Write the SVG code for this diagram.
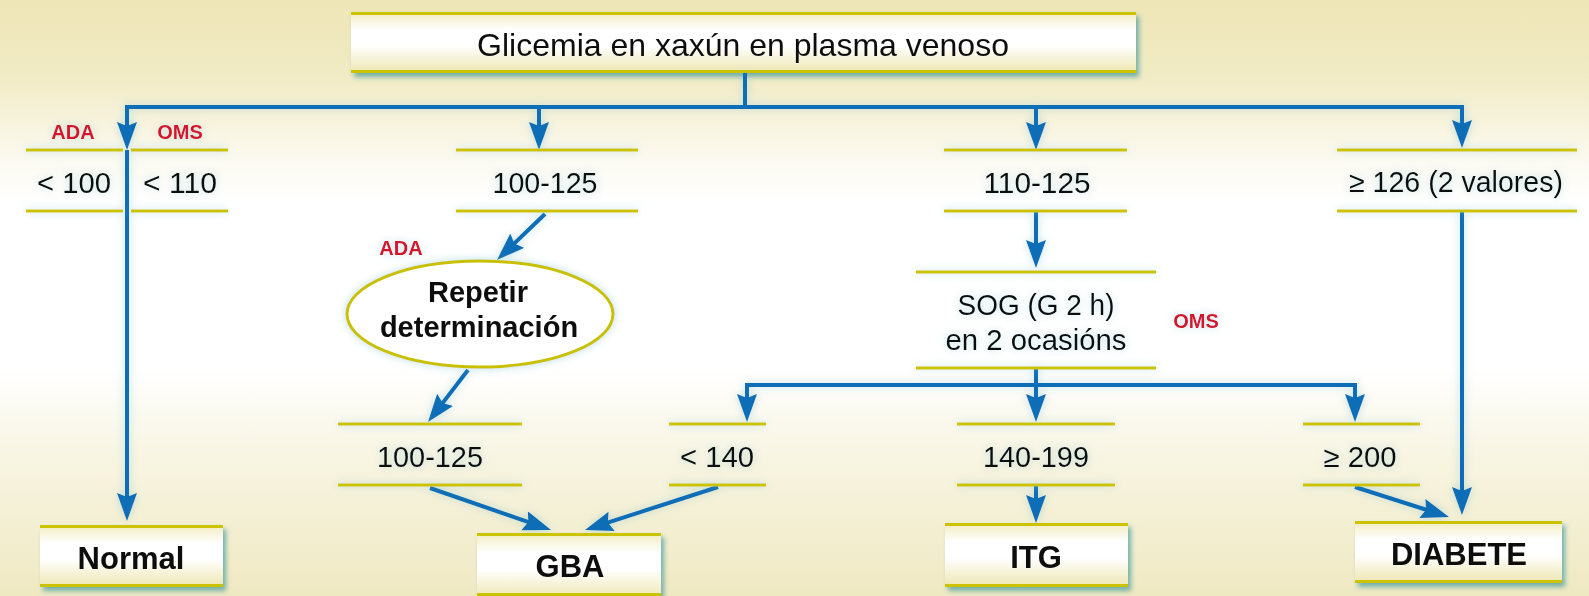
<svg xmlns="http://www.w3.org/2000/svg" width="1589" height="596" viewBox="0 0 1589 596">
<defs>
  <linearGradient id="bg" x1="0" y1="0" x2="0" y2="1">
    <stop offset="0" stop-color="#EEE6B6"/>
    <stop offset="0.13" stop-color="#F1EBC5"/>
    <stop offset="0.26" stop-color="#FBF9EE"/>
    <stop offset="0.34" stop-color="#FFFFFF"/>
    <stop offset="0.62" stop-color="#FFFFFF"/>
    <stop offset="0.76" stop-color="#F8F5E3"/>
    <stop offset="1" stop-color="#EFE9C2"/>
  </linearGradient>
  <linearGradient id="boxfill" x1="0" y1="0" x2="0" y2="1">
    <stop offset="0" stop-color="#F2ECC0"/>
    <stop offset="0.3" stop-color="#FFFFFF"/>
    <stop offset="0.55" stop-color="#FFFFFF"/>
    <stop offset="1" stop-color="#EEE6B0"/>
  </linearGradient>
  <filter id="glow" filterUnits="userSpaceOnUse" x="0" y="0" width="1589" height="596">
    <feGaussianBlur in="SourceAlpha" stdDeviation="4" result="b"/>
    <feFlood flood-color="#6FB8C8" flood-opacity="0.45"/>
    <feComposite in2="b" operator="in" result="g"/>
    <feMerge><feMergeNode in="g"/><feMergeNode in="SourceGraphic"/></feMerge>
  </filter>
  <filter id="shadow" filterUnits="userSpaceOnUse" x="0" y="0" width="1589" height="596">
    <feGaussianBlur in="SourceAlpha" stdDeviation="2.5" result="b"/>
    <feOffset in="b" dx="3" dy="4" result="o"/>
    <feFlood flood-color="#2F9098" flood-opacity="0.65"/>
    <feComposite in2="o" operator="in" result="s"/>
    <feMerge><feMergeNode in="s"/><feMergeNode in="SourceGraphic"/></feMerge>
  </filter>
  <marker id="arr" markerUnits="userSpaceOnUse" markerWidth="28" markerHeight="22" refX="18" refY="10" orient="auto">
    <path d="M0,0 L28,10 L0,20 L4,10 z" fill="#0B6DB7"/>
  </marker>
  <style>
    text { font-family: "Liberation Sans", Arial, Helvetica, sans-serif; fill: #111; }
    .lbl { font-size: 29px; text-anchor: middle; }
    .res { font-size: 31px; font-weight: bold; text-anchor: middle; }
    .red { font-size: 20px; font-weight: bold; fill: #D2142E; text-anchor: middle; }
    .yl { stroke: #CBC300; stroke-width: 3; fill: none; }
    .box { fill: url(#boxfill); }
    .con { stroke: #0B6DB7; stroke-width: 4; fill: none; }
    .arrow { marker-end: url(#arr); }
  </style>
</defs>

<rect x="0" y="0" width="1589" height="596" fill="url(#bg)"/>

<g id="top" filter="url(#shadow)">
  <rect class="box" x="351" y="12" width="785" height="61"/>
  <line class="yl" x1="351" y1="13.5" x2="1136" y2="13.5"/>
  <line class="yl" x1="351" y1="71.5" x2="1136" y2="71.5"/>
  <text x="743" y="56" style="font-size:32px;text-anchor:middle">Glicemia en xaxún en plasma venoso</text>
</g>

<g id="connectors" filter="url(#glow)">
  <path class="con" d="M745,73 V107"/>
  <path class="con" d="M127,107 H1462" stroke-linecap="square"/>
  <path class="con arrow" d="M127,107 V140"/>
  <path class="con arrow" d="M539,107 V140"/>
  <path class="con arrow" d="M1036,107 V140"/>
  <path class="con arrow" d="M1462,107 V138"/>
  <path class="con arrow" d="M127,150 V511"/>
  <path class="con arrow" d="M545,214 L504.2,253.1"/>
  <path class="con arrow" d="M468,370 L434.1,414.1"/>
  <path class="con arrow" d="M1036,212 V258"/>
  <path class="con" d="M1036,368 V385"/>
  <path class="con" d="M747,385 H1355" stroke-linecap="square"/>
  <path class="con arrow" d="M747,385 V412"/>
  <path class="con arrow" d="M1036,385 V412"/>
  <path class="con arrow" d="M1355,385 V412"/>
  <path class="con arrow" d="M430,488 L541.6,526.7"/>
  <path class="con arrow" d="M718,487 L594.5,526.9"/>
  <path class="con arrow" d="M1036,485 V513"/>
  <path class="con arrow" d="M1355,487 L1439.5,514"/>
  <path class="con arrow" d="M1462,212 V505"/>
</g>

<g id="labels-red" filter="url(#glow)">
  <text class="red" x="73" y="139">ADA</text>
  <text class="red" x="180" y="139">OMS</text>
  <text class="red" x="401" y="255">ADA</text>
  <text class="red" x="1196" y="328">OMS</text>
</g>

<g id="n-lt100" filter="url(#glow)">
  <line class="yl" x1="26" y1="150" x2="123" y2="150"/>
  <line class="yl" x1="26" y1="211" x2="123" y2="211"/>
  <text class="lbl" x="74" y="193" textLength="74" lengthAdjust="spacingAndGlyphs">&lt; 100</text>
</g>
<g id="n-lt110" filter="url(#glow)">
  <line class="yl" x1="131" y1="150" x2="228" y2="150"/>
  <line class="yl" x1="131" y1="211" x2="228" y2="211"/>
  <text class="lbl" x="180" y="193" textLength="74" lengthAdjust="spacingAndGlyphs">&lt; 110</text>
</g>
<g id="n-100-125-a" filter="url(#glow)">
  <line class="yl" x1="456" y1="150" x2="638" y2="150"/>
  <line class="yl" x1="456" y1="211" x2="638" y2="211"/>
  <text class="lbl" x="545" y="193" textLength="105" lengthAdjust="spacingAndGlyphs">100-125</text>
</g>
<g id="n-110-125" filter="url(#glow)">
  <line class="yl" x1="944" y1="150" x2="1127" y2="150"/>
  <line class="yl" x1="944" y1="211" x2="1127" y2="211"/>
  <text class="lbl" x="1037" y="193" textLength="107" lengthAdjust="spacingAndGlyphs">110-125</text>
</g>
<g id="n-ge126" filter="url(#glow)">
  <line class="yl" x1="1337" y1="150" x2="1577" y2="150"/>
  <line class="yl" x1="1337" y1="211" x2="1577" y2="211"/>
  <text class="lbl" x="1456" y="192" textLength="214" lengthAdjust="spacingAndGlyphs">≥ 126 (2 valores)</text>
</g>

<g id="n-repetir" filter="url(#glow)">
  <ellipse cx="480" cy="314" rx="133" ry="53" fill="#FFFFFF" stroke="#C8C000" stroke-width="3"/>
  <text x="478" y="302" style="font-size:29px;font-weight:bold;text-anchor:middle">Repetir</text>
  <text x="479" y="337" style="font-size:29px;font-weight:bold;text-anchor:middle">determinación</text>
</g>

<g id="n-sog" filter="url(#glow)">
  <line class="yl" x1="916" y1="272" x2="1156" y2="272"/>
  <line class="yl" x1="916" y1="368" x2="1156" y2="368"/>
  <text class="lbl" x="1036" y="315" textLength="157" lengthAdjust="spacingAndGlyphs">SOG (G 2 h)</text>
  <text class="lbl" x="1036" y="350" textLength="181" lengthAdjust="spacingAndGlyphs">en 2 ocasións</text>
</g>

<g id="n-100-125-b" filter="url(#glow)">
  <line class="yl" x1="338" y1="424" x2="522" y2="424"/>
  <line class="yl" x1="338" y1="485" x2="522" y2="485"/>
  <text class="lbl" x="430" y="467" textLength="106" lengthAdjust="spacingAndGlyphs">100-125</text>
</g>
<g id="n-lt140" filter="url(#glow)">
  <line class="yl" x1="669" y1="424" x2="766" y2="424"/>
  <line class="yl" x1="669" y1="485" x2="766" y2="485"/>
  <text class="lbl" x="717" y="467" textLength="74" lengthAdjust="spacingAndGlyphs">&lt; 140</text>
</g>
<g id="n-140-199" filter="url(#glow)">
  <line class="yl" x1="957" y1="424" x2="1115" y2="424"/>
  <line class="yl" x1="957" y1="485" x2="1115" y2="485"/>
  <text class="lbl" x="1036" y="467" textLength="106" lengthAdjust="spacingAndGlyphs">140-199</text>
</g>
<g id="n-ge200" filter="url(#glow)">
  <line class="yl" x1="1303" y1="424" x2="1420" y2="424"/>
  <line class="yl" x1="1303" y1="485" x2="1420" y2="485"/>
  <text class="lbl" x="1360" y="467" textLength="73" lengthAdjust="spacingAndGlyphs">≥ 200</text>
</g>

<g id="n-normal" filter="url(#shadow)">
  <rect class="box" x="40" y="525" width="183" height="62"/>
  <line class="yl" x1="40" y1="526.5" x2="223" y2="526.5"/>
  <line class="yl" x1="40" y1="585.5" x2="223" y2="585.5"/>
  <text class="res" x="131" y="569">Normal</text>
</g>
<g id="n-gba" filter="url(#shadow)">
  <rect class="box" x="477" y="533" width="184" height="66"/>
  <line class="yl" x1="477" y1="534.5" x2="661" y2="534.5"/>
  <line class="yl" x1="477" y1="594.5" x2="661" y2="594.5"/>
  <text class="res" x="570" y="577">GBA</text>
</g>
<g id="n-itg" filter="url(#shadow)">
  <rect class="box" x="945" y="523" width="183" height="64"/>
  <line class="yl" x1="945" y1="524.5" x2="1128" y2="524.5"/>
  <line class="yl" x1="945" y1="585.5" x2="1128" y2="585.5"/>
  <text class="res" x="1036" y="568">ITG</text>
</g>
<g id="n-diabete" filter="url(#shadow)">
  <rect class="box" x="1355" y="521" width="207" height="62"/>
  <line class="yl" x1="1355" y1="522.5" x2="1562" y2="522.5"/>
  <line class="yl" x1="1355" y1="581.5" x2="1562" y2="581.5"/>
  <text class="res" x="1459" y="565">DIABETE</text>
</g>
</svg>
